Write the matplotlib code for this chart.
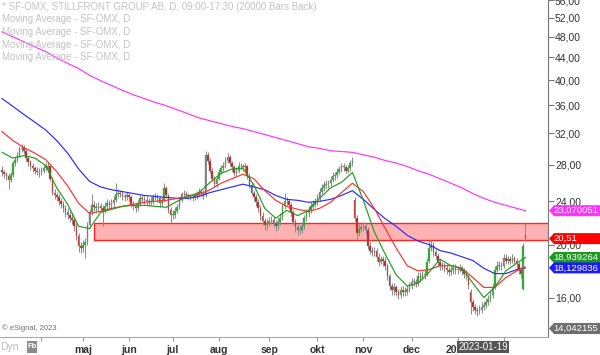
import numpy as np
import pandas as pd
import matplotlib
matplotlib.use("Agg")
import matplotlib.pyplot as plt
from matplotlib.patches import Polygon, Rectangle
from matplotlib.ticker import FixedLocator, NullLocator

plt.rcParams["font.family"] = ["Liberation Sans", "DejaVu Sans"]

# ===============================
# Data (SF-OMX daily bars)
# ===============================
OPEN = [
    27.4, 27.1, 26.9, 26.7, 26.3, 26.8, 28.2, 28.6, 29.1, 29.9,
    30.1, 29.7, 28.8, 28.3, 27.8, 27.6, 27.3, 27.2, 27.1, 27.3,
    27.6, 27.5, 27.8, 26.4, 24.9, 24.6, 24.4, 24.0, 23.7, 23.3,
    22.9, 22.7, 22.4, 22.2, 21.6, 20.7, 19.9, 19.7, 20.0, 20.2,
    21.7, 22.9, 23.6, 23.4, 23.3, 23.5, 23.3, 23.0, 23.5, 23.8,
    23.6, 23.8, 24.1, 24.7, 24.9, 24.8, 24.5, 24.4, 24.6, 24.4,
    23.7, 23.5, 23.3, 23.8, 24.3, 24.2, 24.1, 24.0, 23.9, 24.0,
    24.4, 24.5, 24.3, 23.8, 24.1, 25.4, 24.6, 23.1, 22.7, 22.7,
    23.0, 23.4, 24.1, 24.7, 24.8, 24.6, 24.5, 24.4, 24.4, 24.5,
    24.7, 25.0, 24.9, 24.6, 29.2, 28.5, 27.3, 26.4, 25.8, 26.4,
    27.2, 27.6, 27.9, 28.5, 28.9, 28.2, 27.7, 27.0, 27.3, 27.9,
    27.8, 27.7, 27.8, 26.7, 25.7, 24.9, 24.4, 23.9, 23.3, 22.6,
    22.1, 21.7, 21.9, 22.1, 22.2, 21.9, 21.6, 22.0, 22.4, 23.5,
    24.0, 24.0, 23.6, 22.9, 22.0, 21.5, 21.3, 21.3, 21.6, 22.4,
    22.8, 23.1, 23.5, 23.7, 23.9, 24.3, 25.0, 25.4, 25.7, 25.8,
    25.9, 26.3, 26.7, 26.8, 27.2, 27.5, 27.8, 27.7, 27.3, 27.6,
    28.2, 24.1, 22.4, 21.0, 21.4, 21.5, 21.6, 21.3, 19.9, 19.5,
    19.4, 19.5, 19.0, 18.6, 18.8, 18.7, 18.3, 17.5, 16.8, 16.5,
    16.7, 16.4, 16.2, 16.5, 16.4, 16.4, 16.6, 16.8, 17.1, 17.1,
    17.0, 17.5, 17.4, 17.6, 17.7, 18.7, 19.7, 20.0, 19.4, 19.1,
    18.6, 18.3, 18.3, 18.1, 18.0, 17.8, 18.0, 18.1, 18.0, 18.0,
    18.1, 17.9, 17.7, 17.5, 16.4, 15.7, 15.4, 15.2, 15.1, 15.2,
    15.4, 15.5, 15.7, 15.9, 16.2, 16.7, 18.0, 18.3, 18.3, 18.3,
    18.9, 18.7, 18.8, 18.7, 18.9, 18.7, 18.4, 18.0, 16.6, 20.8,
]
HIGH = [
    27.8, 27.4, 27.2, 27.0, 27.1, 28.5, 28.9, 29.5, 30.3, 30.6,
    30.4, 29.9, 29.1, 28.6, 28.2, 27.9, 27.7, 27.6, 27.7, 28.0,
    28.2, 28.3, 28.0, 26.6, 25.3, 25.0, 24.8, 24.3, 24.0, 23.6,
    23.3, 23.0, 22.8, 22.5, 21.9, 21.0, 20.2, 20.4, 20.6, 22.0,
    23.2, 24.8, 24.0, 23.8, 23.9, 23.8, 23.6, 23.9, 24.2, 24.1,
    24.2, 24.5, 25.9, 25.3, 25.2, 25.1, 24.9, 25.0, 24.9, 24.6,
    24.0, 23.8, 24.1, 24.6, 24.6, 24.5, 24.5, 24.3, 24.4, 24.8,
    24.9, 24.8, 24.5, 24.4, 25.9, 25.6, 24.8, 23.4, 23.1, 23.4,
    23.7, 24.4, 25.0, 25.2, 25.1, 24.9, 24.8, 24.8, 24.9, 25.1,
    25.4, 25.3, 25.2, 29.7, 29.6, 28.8, 27.6, 26.7, 26.7, 27.5,
    28.0, 28.3, 28.9, 29.4, 29.2, 28.5, 28.0, 27.7, 28.3, 28.2,
    28.1, 28.2, 28.0, 27.0, 26.0, 25.2, 24.7, 24.2, 23.6, 22.9,
    22.4, 22.3, 22.5, 22.6, 22.5, 22.2, 22.4, 22.8, 23.8, 24.9,
    24.4, 24.2, 23.8, 23.1, 22.3, 21.8, 21.7, 22.0, 22.7, 23.2,
    23.5, 23.9, 24.1, 24.3, 24.7, 25.4, 25.8, 26.1, 26.2, 26.3,
    26.7, 27.1, 27.2, 27.6, 27.9, 28.2, 28.2, 28.0, 28.0, 28.6,
    28.9, 24.4, 22.7, 21.8, 21.9, 22.0, 21.9, 21.5, 20.2, 19.8,
    19.8, 19.7, 19.3, 19.1, 19.1, 19.0, 18.5, 17.7, 17.0, 17.0,
    16.9, 16.6, 16.8, 16.8, 16.7, 16.9, 17.1, 17.4, 17.4, 17.3,
    17.8, 17.8, 17.9, 18.0, 18.9, 20.4, 20.4, 20.2, 19.6, 19.3,
    18.8, 18.6, 18.5, 18.4, 18.2, 18.3, 18.4, 18.4, 18.3, 18.4,
    18.3, 18.1, 18.0, 17.7, 16.6, 15.9, 15.6, 15.4, 15.5, 15.7,
    15.8, 16.0, 16.2, 16.5, 17.0, 18.3, 18.7, 18.7, 18.6, 19.2,
    19.2, 19.1, 19.1, 19.2, 19.1, 18.9, 18.6, 18.2, 20.1, 21.9,
]
LOW = [
    26.7, 26.5, 26.2, 25.3, 26.0, 26.6, 27.9, 28.3, 28.9, 29.6,
    29.3, 28.5, 27.9, 27.4, 27.2, 26.9, 26.8, 26.6, 26.8, 27.0,
    27.3, 27.2, 26.1, 24.6, 24.2, 24.0, 23.6, 23.3, 22.9, 22.5,
    22.3, 22.0, 21.8, 21.2, 20.4, 19.4, 19.3, 19.4, 18.9, 20.0,
    21.5, 22.7, 23.0, 22.9, 23.0, 22.9, 21.6, 22.8, 23.2, 23.2,
    23.3, 23.4, 23.9, 24.4, 24.4, 24.1, 24.0, 24.1, 24.0, 23.4,
    23.1, 22.9, 23.0, 23.5, 23.8, 23.7, 23.6, 23.5, 23.6, 23.7,
    24.1, 23.9, 23.4, 23.5, 23.9, 24.3, 22.8, 21.9, 22.3, 22.4,
    22.8, 23.2, 23.9, 24.4, 24.3, 24.2, 24.1, 24.0, 24.1, 24.2,
    24.5, 24.5, 24.2, 24.4, 28.1, 27.0, 26.1, 25.5, 25.5, 26.2,
    26.9, 27.3, 27.6, 28.2, 27.9, 27.3, 26.7, 26.7, 27.0, 27.4,
    27.3, 27.3, 26.4, 25.4, 24.6, 24.0, 23.5, 22.9, 22.2, 21.7,
    21.3, 21.4, 21.6, 21.8, 21.5, 21.2, 21.3, 21.7, 22.2, 23.2,
    23.6, 23.2, 22.6, 21.7, 21.1, 20.8, 20.9, 21.0, 21.4, 22.1,
    22.5, 22.8, 23.2, 23.4, 23.6, 24.0, 24.7, 25.1, 25.3, 25.4,
    25.6, 26.0, 26.3, 26.5, 26.9, 27.2, 27.3, 27.0, 27.0, 27.3,
    27.9, 22.1, 20.4, 20.7, 21.1, 21.2, 20.9, 19.6, 19.2, 19.1,
    19.1, 18.7, 18.3, 18.4, 18.3, 18.0, 17.2, 16.5, 16.2, 16.2,
    16.1, 15.9, 16.0, 16.1, 16.1, 16.2, 16.4, 16.6, 16.8, 16.7,
    16.8, 17.1, 17.2, 17.3, 17.5, 18.5, 19.5, 19.1, 18.8, 18.3,
    18.0, 18.0, 17.8, 17.7, 17.5, 17.6, 17.7, 17.7, 17.7, 17.8,
    17.6, 17.4, 17.2, 16.6, 14.9, 15.1, 14.9, 14.8, 14.9, 15.0,
    15.2, 15.3, 15.5, 15.7, 16.0, 16.6, 17.8, 18.0, 18.0, 18.1,
    18.4, 18.4, 18.4, 18.5, 18.4, 18.1, 17.7, 17.4, 16.5, 20.3,
]
CLOSE = [
    27.1, 26.9, 26.7, 26.3, 26.8, 28.2, 28.6, 29.1, 29.9, 30.1,
    29.7, 28.8, 28.3, 27.8, 27.6, 27.3, 27.2, 27.1, 27.3, 27.6,
    27.8, 27.8, 26.4, 24.9, 24.6, 24.4, 24.0, 23.7, 23.3, 22.9,
    22.7, 22.4, 22.2, 21.6, 20.7, 19.9, 19.7, 20.0, 20.2, 21.7,
    22.9, 23.6, 23.4, 23.3, 23.5, 23.3, 23.0, 23.5, 23.8, 23.6,
    23.8, 24.1, 24.7, 24.9, 24.8, 24.5, 24.4, 24.6, 24.4, 23.7,
    23.5, 23.3, 23.8, 24.3, 24.2, 24.1, 24.0, 23.9, 24.0, 24.4,
    24.5, 24.3, 23.8, 24.1, 25.4, 24.6, 23.1, 22.7, 22.7, 23.0,
    23.4, 24.1, 24.7, 24.8, 24.6, 24.5, 24.4, 24.4, 24.5, 24.7,
    25.0, 24.9, 24.5, 29.2, 28.5, 27.3, 26.4, 25.8, 26.4, 27.2,
    27.6, 27.9, 28.5, 28.9, 28.2, 27.7, 27.0, 27.3, 27.9, 27.8,
    27.7, 27.8, 26.7, 25.7, 24.9, 24.4, 23.9, 23.3, 22.6, 22.1,
    21.7, 21.9, 22.1, 22.2, 21.9, 21.6, 22.0, 22.4, 23.5, 24.0,
    24.0, 23.6, 22.9, 22.0, 21.5, 21.3, 21.3, 21.6, 22.4, 22.8,
    23.1, 23.5, 23.7, 23.9, 24.3, 25.0, 25.4, 25.7, 25.8, 25.9,
    26.3, 26.7, 26.8, 27.2, 27.5, 27.8, 27.7, 27.3, 27.6, 28.2,
    28.5, 22.4, 21.0, 21.4, 21.5, 21.6, 21.3, 19.9, 19.5, 19.4,
    19.5, 19.0, 18.6, 18.8, 18.7, 18.3, 17.5, 16.8, 16.5, 16.7,
    16.4, 16.2, 16.5, 16.4, 16.4, 16.6, 16.8, 17.1, 17.1, 17.0,
    17.5, 17.4, 17.6, 17.7, 18.6, 19.7, 20.0, 19.4, 19.1, 18.6,
    18.3, 18.3, 18.1, 18.0, 17.8, 18.0, 18.1, 18.0, 18.0, 18.1,
    17.9, 17.7, 17.5, 16.9, 15.7, 15.4, 15.2, 15.1, 15.2, 15.4,
    15.5, 15.7, 15.9, 16.2, 16.7, 18.0, 18.3, 18.3, 18.3, 18.9,
    18.7, 18.8, 18.7, 18.9, 18.7, 18.4, 18.0, 17.7, 19.9, 20.51,
]

# Moving averages sampled every 5th bar (plus the last bar)
MA_MAGENTA = [
    49.0, 48.0, 47.0, 46.0, 45.1, 43.9, 42.9, 42.0, 40.8, 39.9,
    39.1, 38.3, 37.6, 37.0, 36.4, 35.9, 35.3, 34.7, 34.1, 33.7,
    33.3, 32.9, 32.6, 32.2, 31.8, 31.4, 31.0, 30.6, 30.2, 30.0,
    29.7, 29.6, 29.5, 29.2, 28.9, 28.5, 28.2, 27.8, 27.3, 26.9,
    26.4, 25.9, 25.4, 24.8, 24.3, 23.9, 23.6, 23.3, 23.07,
]
MA_BLUE = [
    37.0, 35.8, 34.6, 33.5, 32.4, 31.0, 29.4, 27.5, 26.1, 25.5,
    25.2, 25.0, 24.8, 24.6, 24.5, 24.4, 24.3, 24.3, 24.5, 24.9,
    25.2, 25.5, 25.8, 25.5, 25.2, 24.6, 24.2, 24.1, 23.9, 24.0,
    24.2, 24.6, 25.1, 24.2, 23.2, 22.3, 21.6, 20.8, 20.3, 20.0,
    19.5, 19.3, 19.0, 18.7, 18.1, 17.7, 17.7, 18.0, 18.13,
]
MA_RED = [
    32.2, 31.0, 30.1, 29.4, 28.6, 27.2, 25.6, 23.8, 22.8, 23.0,
    23.3, 23.5, 23.7, 23.9, 24.0, 24.1, 24.3, 24.5, 24.7, 25.2,
    25.9, 26.4, 26.9, 26.4, 25.1, 24.1, 23.5, 23.2, 23.0, 23.3,
    23.9, 24.9, 25.9, 25.0, 23.3, 21.4, 19.7, 18.3, 17.9, 18.0,
    18.3, 18.3, 18.1, 17.4, 16.7, 16.7, 17.4, 17.9, 18.2,
]
MA_GREEN = [
    29.5, 28.8, 29.1, 28.8, 27.9, 25.4, 23.7, 21.6, 21.4, 22.9,
    23.2, 23.5, 23.6, 23.6, 23.5, 23.4, 24.0, 24.5, 24.9, 26.0,
    27.0, 27.5, 27.6, 25.7, 23.3, 22.35, 23.1, 22.6, 23.1, 24.3,
    25.4, 26.0, 27.1, 24.1, 21.1, 19.2, 17.6, 16.8, 17.0, 17.8,
    18.8, 18.3, 18.1, 17.0, 16.0, 16.7, 17.9, 18.5, 18.94,
]

# Resistance zone and price tags
ZONE_LOW, ZONE_HIGH = 20.37, 21.88
TAG_PRICES = [23.070051, 20.51, 18.939264, 18.129836, 14.042155]
TAG_TEXTS = ["23,070051", "20,51", "18,939264", "18,129836", "14,042155"]
TAG_COLORS = ["#ff33ff", "#ff0000", "#1a9a1a", "#1a1aff", "#6e6e6e"]

Y_TICKS = [16, 20, 24, 28, 32, 36, 40, 44, 48, 52, 56]
HOLIDAYS = ["2022-04-15", "2022-04-18", "2022-05-26", "2022-06-06",
            "2022-06-24", "2022-12-26", "2023-01-06"]
MONTHS_SV = {1: "2023", 2: "", 3: "", 4: "", 5: "maj", 6: "jun", 7: "jul",
             8: "aug", 9: "sep", 10: "okt", 11: "nov", 12: "dec"}

# ===============================
# Prep
# ===============================
o, h, l, c = map(np.array, (OPEN, HIGH, LOW, CLOSE))
n = len(c)
idx = np.arange(n)
dates = pd.bdate_range(end="2023-02-15", periods=n, freq="C", holidays=HOLIDAYS)
ma_idx = list(range(0, n, 5)) + [n - 1]

month_pos = [i for i in range(1, n) if dates[i].month != dates[i - 1].month]
month_lbl = [MONTHS_SV[dates[i].month] for i in month_pos]

W, H = 600, 355
fig = plt.figure(figsize=(W / 100, H / 100), dpi=100)
fig.patch.set_facecolor("white")
ax = fig.add_axes([0, 18 / H, 548 / W, 337 / H])

# ===============================
# Candles
# ===============================
up = c >= o
body_col = np.where(up, "#1fb51f", "#d81010")
ax.vlines(idx, l, h, color="#8a8a8a", lw=0.7, zorder=3)
ax.bar(idx, np.maximum(np.abs(c - o), 0.04), bottom=np.minimum(o, c), width=0.72,
       color=body_col, edgecolor="#8a8a8a", linewidth=0.3, zorder=4)

# Moving averages
ax.plot(ma_idx, MA_MAGENTA, color="#ff33ff", lw=0.85, zorder=5)
ax.plot(ma_idx, MA_BLUE, color="#2a2aff", lw=0.85, zorder=5)
ax.plot(ma_idx, MA_RED, color="#ff3030", lw=0.85, zorder=5)
ax.plot(ma_idx, MA_GREEN, color="#1e9e1e", lw=0.85, zorder=5)

# Zone
x_left, x_right = -0.9, 249.3
ax.add_patch(Rectangle((42, ZONE_LOW), x_right - 42 + 1, ZONE_HIGH - ZONE_LOW,
                       facecolor="#ffb2b2", edgecolor="#ff2424", lw=1.0, zorder=2))

# ===============================
# Axes
# ===============================
ax.set_yscale("log")
ax.set_xlim(x_left, x_right)
ax.set_ylim(13.55, 56.05)
ax.yaxis.tick_right()
ax.yaxis.set_major_locator(FixedLocator(Y_TICKS))
ax.yaxis.set_minor_locator(NullLocator())
ax.set_yticklabels([f"{v:.2f}".replace(".", ",") for v in Y_TICKS])
ax.tick_params(axis="y", direction="out", length=4, width=0.8, color="#777777",
               labelsize=7.5, labelcolor="#333333", pad=1)
ax.set_xticks(month_pos)
ax.set_xticklabels(month_lbl, fontweight="bold")
ax.tick_params(axis="x", direction="out", length=3, width=0.8, color="#999999",
               labelsize=7.5, labelcolor="#333333", pad=3)
for s in ("left", "top"):
    ax.spines[s].set_visible(False)
ax.spines["right"].set_color("#777777")
ax.spines["bottom"].set_color("#aaaaaa")

# ===============================
# Price tags on the right
# ===============================
fig.canvas.draw()
for price, txt, col in zip(TAG_PRICES, TAG_TEXTS, TAG_COLORS):
    yf = ax.transData.transform((0, price))[1] / fig.bbox.height
    hh = 5.5 / H
    pts = [(549 / W, yf), (554 / W, yf + hh), (1.0, yf + hh), (1.0, yf - hh), (554 / W, yf - hh)]
    fig.patches.append(Polygon(pts, closed=True, facecolor=col, edgecolor="none",
                               transform=fig.transFigure, figure=fig, zorder=2))
    fig.text(553.5 / W, yf, txt, color="white", fontsize=6.8, va="center", ha="left", zorder=3)

# ===============================
# Header / footer texts
# ===============================
legend_lines = ["* SF-OMX, STILLFRONT GROUP AB, D, 09:00-17:30 (20000 Bars Back)"] + \
               ["Moving Average - SF-OMX, D"] * 4
for k, line in enumerate(legend_lines):
    fig.text(2 / W, 1 - (7 + 12.5 * k) / H, line, color="#c4c4c4", fontsize=7, va="center")

fig.text(2 / W, 1 - 328 / H, "\u00a9 eSignal, 2023", color="#707070", fontsize=5.5, va="center")
fig.text(0, 1 - 347 / H, "Dyn", color="#bdbdbd", fontsize=7.5, va="center")
fig.patches.append(Rectangle((27 / W, 1 - 353 / H), 10 / W, 12 / H, facecolor="#8a8a8a",
                             edgecolor="none", transform=fig.transFigure, figure=fig))
fig.text(32 / W, 1 - 347 / H, "Fb", color="white", fontsize=5.5, va="center", ha="center",
         fontweight="bold")

# crosshair date box
fig.patches.append(Rectangle((457 / W, 1 - 353 / H), 52 / W, 12 / H, facecolor="#555555",
                             edgecolor="none", transform=fig.transFigure, figure=fig, zorder=2))
fig.text(483 / W, 1 - 347 / H, "2023-01-19", color="white", fontsize=7, va="center",
         ha="center", zorder=3)

fig.savefig("out.png", dpi=100, facecolor="white")
